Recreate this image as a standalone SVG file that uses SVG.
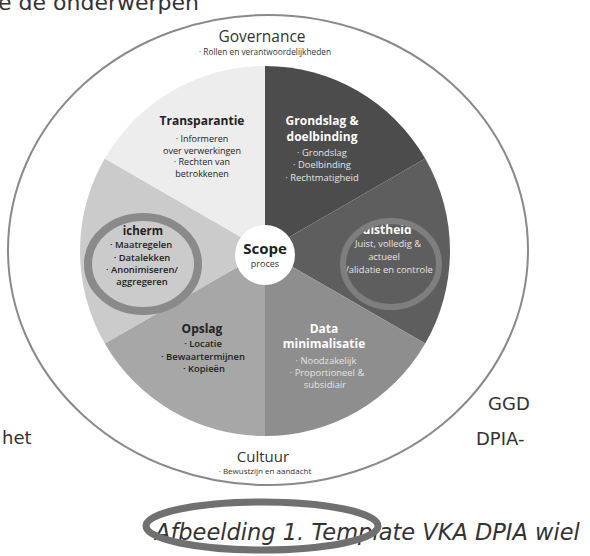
<svg xmlns="http://www.w3.org/2000/svg" width="590" height="556" viewBox="0 0 590 556">
<style>
.t{font-family:"Open Sans","Noto Sans","Liberation Sans",sans-serif;text-anchor:middle}
.h{font-weight:700;font-size:12px}
.b{font-size:9.4px}
.dk{fill:#222}
.lt{fill:#fff}
.lb{fill:#e4e4e4}
.v{font-family:"DejaVu Sans","Liberation Sans",sans-serif;fill:#333}
.ring{fill:none;stroke-linecap:round}
</style>
<rect width="590" height="556" fill="#fff"/>
<text class="v" x="-2" y="10" font-size="22">e de onderwerpen</text>
<g id="outer">
<ellipse cx="268" cy="250" rx="260" ry="235" fill="none" stroke="#8a8a8a" stroke-width="2"/>
</g>
<g id="governance">
<text class="t" x="262" y="42" font-size="15.5" fill="#333">Governance</text>
<text class="t" x="265" y="55" font-size="8.3" fill="#333">· Rollen en verantwoordelijkheden</text>
</g>
<g id="wheel">
<g id="grondslag">
<path d="M265,251 L265,66 A185,185 0 0 1 425.2,158.5 Z" fill="#4c4c4c"/>
<text class="t h lt" x="322" y="125">Grondslag &amp;</text>
<text class="t h lt" x="322" y="140.5">doelbinding</text>
<text class="t b lb" x="322" y="156">· Grondslag</text>
<text class="t b lb" x="322" y="168">· Doelbinding</text>
<text class="t b lb" x="322" y="181">· Rechtmatigheid</text>
</g>
<g id="juistheid">
<path d="M265,251 L425.2,158.5 A185,185 0 0 1 425.2,343.5 Z" fill="#5e5e5e"/>
<text class="t h lt" x="387" y="234" font-size="11">uistheid</text>
<text class="t b lb" x="388" y="247" font-size="9">Juist, volledig &amp;</text>
<text class="t b lb" x="384" y="260" font-size="9">actueel</text>
<text class="t b lb" x="388" y="273" font-size="9">Validatie en controle</text>
<ellipse class="ring" cx="391" cy="264" rx="48" ry="43" stroke="#7e7e7e" stroke-width="6"/>
</g>
<g id="data">
<path d="M265,251 L425.2,343.5 A185,185 0 0 1 265,436 Z" fill="#8e8e8e"/>
<text class="t h lt" x="324" y="332.5">Data</text>
<text class="t h lt" x="324" y="348">minimalisatie</text>
<text class="t b lb" x="326" y="364">· Noodzakelijk</text>
<text class="t b lb" x="327" y="376">· Proportioneel &amp;</text>
<text class="t b lb" x="325" y="388">subsidiair</text>
</g>
<g id="opslag">
<path d="M265,251 L265,436 A185,185 0 0 1 104.8,343.5 Z" fill="#a7a7a7"/>
<text class="t h dk" x="202" y="333">Opslag</text>
<text class="t b dk" x="203" y="347" font-weight="600">· Locatie</text>
<text class="t b dk" x="203" y="360" font-weight="600">· Bewaartermijnen</text>
<text class="t b dk" x="204" y="372" font-weight="600">· Kopieën</text>
</g>
<g id="bescherming">
<path d="M265,251 L104.8,343.5 A185,185 0 0 1 104.8,158.5 Z" fill="#cbcbcb"/>
<text class="t dk" x="143" y="235" font-size="11.5" font-weight="700">icherm</text>
<text class="t b dk" x="141" y="248" font-weight="600">· Maatregelen</text>
<text class="t b dk" x="142" y="261" font-weight="600">· Datalekken</text>
<text class="t b dk" x="142" y="273" font-weight="600">· Anonimiseren/</text>
<text class="t b dk" x="142" y="285" font-weight="600">aggregeren</text>
<ellipse class="ring" cx="143" cy="264" rx="55" ry="47" stroke="#8a8a8a" stroke-width="8"/>
</g>
<g id="transparantie">
<path d="M265,251 L104.8,158.5 A185,185 0 0 1 265,66 Z" fill="#ededed"/>
<text class="t h dk" x="202" y="125">Transparantie</text>
<text class="t dk" x="202" y="142" font-size="9">· Informeren</text>
<text class="t dk" x="202" y="153.5" font-size="9">over verwerkingen</text>
<text class="t dk" x="202" y="165" font-size="9">· Rechten van</text>
<text class="t dk" x="202" y="176.5" font-size="9">betrokkenen</text>
</g>
<g id="scope">
<circle cx="265" cy="255" r="30" fill="#fff"/>
<text class="t" x="265" y="254" font-size="15" font-weight="700" fill="#222">Scope</text>
<text class="t" x="265" y="267" font-size="9" fill="#333">proces</text>
</g>
</g>
<g id="cultuur">
<text class="t" x="263" y="462" font-size="15" fill="#333">Cultuur</text>
<text class="t" x="265" y="474" font-size="8" fill="#333">· Bewustzijn en aandacht</text>
</g>
<text class="v" x="2" y="444" font-size="18">het</text>
<text class="v" x="488" y="410" font-size="18">GGD</text>
<text class="v" x="476" y="445" font-size="18">DPIA-</text>
<text class="v" x="155" y="540" font-size="22.5" font-style="italic" fill="#555">Afbeelding 1. Template VKA DPIA wiel</text>
<ellipse class="ring" cx="262" cy="526" rx="116" ry="24" stroke="#707070" stroke-width="7"/>
</svg>
